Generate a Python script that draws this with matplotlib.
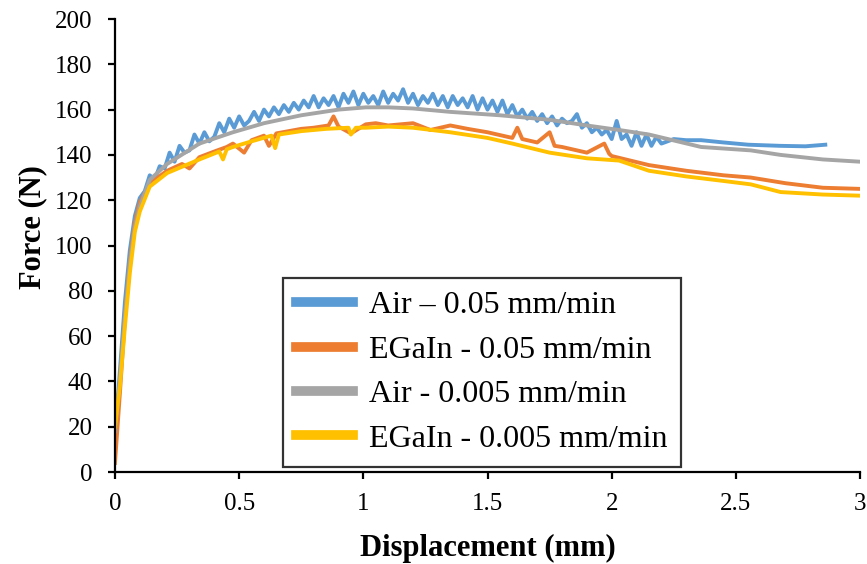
import matplotlib
matplotlib.use("Agg")
import matplotlib.pyplot as plt
from matplotlib.ticker import FormatStrFormatter, MultipleLocator

plt.rcParams['font.family'] = ['Liberation Serif', 'DejaVu Serif']

# Air - 0.05 mm/min (noisy)
air_fast_x = [0, 0.02, 0.04, 0.06, 0.08, 0.1,
              0.12, 0.14, 0.16, 0.18, 0.20, 0.22, 0.24, 0.26, 0.28, 0.30,
              0.32, 0.34, 0.36, 0.38, 0.40, 0.42, 0.44, 0.46, 0.48, 0.50,
              0.52, 0.54, 0.56, 0.58, 0.60, 0.62, 0.64, 0.66, 0.68, 0.70,
              0.72, 0.74, 0.76, 0.78, 0.80, 0.82, 0.84, 0.86, 0.88, 0.90,
              0.92, 0.94, 0.96, 0.98, 1.00, 1.02, 1.04, 1.06, 1.08, 1.10,
              1.12, 1.14, 1.16, 1.18, 1.20, 1.22, 1.24, 1.26, 1.28, 1.30,
              1.32, 1.34, 1.36, 1.38, 1.40, 1.42, 1.44, 1.46, 1.48, 1.50,
              1.52, 1.54, 1.56, 1.58, 1.60, 1.62, 1.64, 1.66, 1.68, 1.70,
              1.72, 1.74, 1.76, 1.78, 1.80, 1.82, 1.84, 1.86, 1.88, 1.90,
              1.92, 1.94, 1.96, 1.98, 2.00, 2.02, 2.04, 2.06, 2.08, 2.10,
              2.12, 2.14, 2.16, 2.18, 2.20,
              2.25, 2.30, 2.36, 2.45, 2.55, 2.68, 2.78, 2.86]
air_fast_y = [15, 45, 75, 98, 113, 121,
              124, 131, 129, 135, 134, 141, 137, 144, 141, 142,
              149, 145, 150, 146, 148, 154, 150, 156, 152, 157,
              153, 155, 159, 155, 160, 157, 161, 158, 162, 159,
              163, 160, 164, 161, 166, 161, 165, 162, 166, 161,
              167, 163, 168, 162, 167, 163, 166, 162, 168, 163,
              167, 164, 169, 163, 167, 162, 166, 163, 167, 162,
              166, 161, 166, 162, 165, 161, 166, 160, 165, 160,
              164, 159, 164, 158, 162, 157, 160, 156, 159, 155,
              158, 154, 157, 153, 156, 154, 155, 158, 152, 154,
              150, 152, 149, 151, 147, 155, 147, 149, 144, 150,
              144, 149, 144, 148, 145,
              147, 146.5, 146.5, 145.5, 144.5, 144, 143.8, 144.5]

# EGaIn - 0.05 mm/min
egain_fast_x = [0, 0.02, 0.04, 0.06, 0.08, 0.1, 0.14, 0.21, 0.27, 0.3, 0.34, 0.4,
                0.45, 0.475, 0.52, 0.55, 0.6, 0.62, 0.65, 0.7, 0.75, 0.8, 0.86,
                0.88, 0.9, 0.95, 1.01, 1.05, 1.1, 1.2, 1.27, 1.35, 1.42, 1.5,
                1.6, 1.62, 1.64, 1.7, 1.75, 1.77, 1.8, 1.9, 1.97, 1.99, 2.0,
                2.15, 2.3, 2.45, 2.56, 2.7, 2.85, 3.0]
egain_fast_y = [4, 35, 68, 93, 110, 119, 127.5, 133, 136, 134, 139, 141.5,
                143.5, 145, 141, 146.5, 148.5, 144, 149.5, 150.5, 151.5, 152, 153,
                157, 152.5, 149.5, 153.5, 154, 153, 154, 151, 153, 151.5, 150,
                147.5, 152, 147, 145.5, 150, 144, 143.5, 141, 145, 140.5, 139.5,
                135.5, 133, 131, 130, 127.5, 125.5, 125]

# Air - 0.005 mm/min
air_slow_x = [0, 0.02, 0.04, 0.06, 0.08, 0.1, 0.14, 0.21, 0.34, 0.475, 0.6, 0.75,
              0.9, 1.01, 1.1, 1.2, 1.35, 1.55, 1.75, 1.9, 2.03, 2.15, 2.36, 2.56,
              2.68, 2.85, 3.0]
air_slow_y = [18, 40, 68, 92, 108, 117, 129, 136, 145, 150, 154, 157.5,
              160, 161, 161, 160.5, 159, 157.5, 155.5, 153, 151, 149, 143.5, 142,
              140, 138, 137]

# EGaIn - 0.005 mm/min
egain_slow_x = [0, 0.02, 0.04, 0.06, 0.08, 0.1, 0.14, 0.21, 0.34, 0.42, 0.435,
                0.45, 0.475, 0.55, 0.63, 0.645, 0.66, 0.75, 0.85, 0.94, 0.95, 0.97,
                1.01, 1.1, 1.2, 1.35, 1.5, 1.6, 1.75, 1.9, 2.03, 2.15, 2.3,
                2.45, 2.56, 2.68, 2.85, 3.0]
egain_slow_y = [20, 38, 64, 88, 106, 115, 126, 132, 138, 141.5, 138,
                142.5, 143.5, 146, 148.5, 143, 149, 150.5, 151.5, 152, 149, 152,
                152, 152.5, 152, 150, 147.5, 145, 141, 138.5, 137.5, 133, 130.5,
                128.5, 127, 123.6, 122.5, 122]

labels = ["Air \u2013 0.05 mm/min", "EGaIn - 0.05 mm/min",
          "Air - 0.005 mm/min", "EGaIn - 0.005 mm/min"]
colors = ["#5B9BD5", "#ED7D31", "#A5A5A5", "#FFC000"]

fig = plt.figure(figsize=(8.67, 5.64), dpi=100)
ax = fig.add_axes([0.1326, 0.1631, 0.8594, 0.8032])

series = [(air_fast_x, air_fast_y), (egain_fast_x, egain_fast_y),
          (air_slow_x, air_slow_y), (egain_slow_x, egain_slow_y)]
for (xs, ys), lab, c in zip(series, labels, colors):
    ax.plot(xs, ys, color=c, lw=2.8, label=lab, solid_joinstyle='round')

ax.set_xlim(0, 3)
ax.set_ylim(0, 200)
ax.xaxis.set_major_locator(MultipleLocator(0.5))
ax.yaxis.set_major_locator(MultipleLocator(20))
ax.xaxis.set_major_formatter(FormatStrFormatter('%g'))
for s in ['top', 'right']:
    ax.spines[s].set_visible(False)
for s in ['left', 'bottom']:
    ax.spines[s].set_linewidth(1.6)

ax.set_xlabel("Displacement (mm)", fontsize=22, fontweight='bold')
ax.set_ylabel("Force (N)", fontsize=22, fontweight='bold')
ax.xaxis.set_label_coords(0.5, -0.137)
ax.yaxis.set_label_coords(-0.11, 0.54)
ax.yaxis.label.set_va('center')

leg = ax.legend(loc='lower left', bbox_to_anchor=(0.2255, 0.011),
                borderaxespad=0, fontsize=23, frameon=True, fancybox=False,
                handlelength=1.78, handletextpad=0.5, labelspacing=0.47,
                borderpad=0.42)
leg.get_frame().set_edgecolor('black')
leg.get_frame().set_linewidth(1.6)
for h in leg.get_lines():
    h.set_linewidth(7)

ax.tick_params(axis='both', direction='out', length=5, width=1.6, labelsize=18)
ax.tick_params(axis='x', pad=10)
ax.tick_params(axis='y', pad=11)
for t in ax.get_xticklabels() + ax.get_yticklabels():
    t.set_fontsize(18)

fig.savefig("out.png", dpi=100)
